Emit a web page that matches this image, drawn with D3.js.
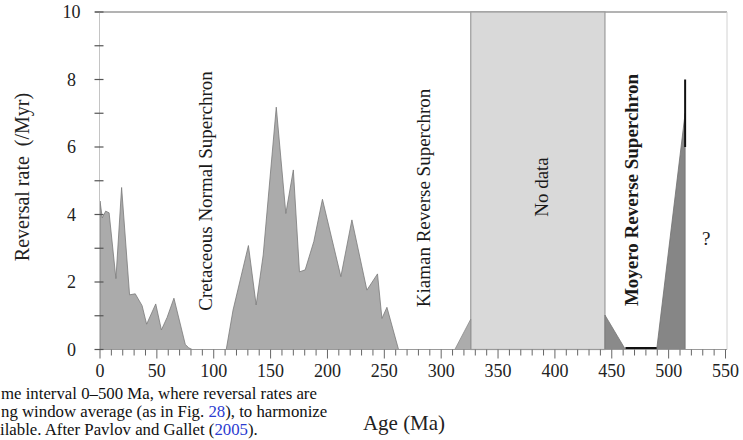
<!DOCTYPE html>
<html>
<head>
<meta charset="utf-8">
<script src="https://cdn.jsdelivr.net/npm/d3@7"></script>
<style>
  html, body { margin: 0; padding: 0; background: #fff; }
  svg { display: block; font-family: "Liberation Serif", "Times New Roman", serif; }
</style>
</head>
<body>
<svg id="chart" width="743" height="440"></svg>
<script>
// Reversal rate (per Myr) against age (Ma)
const cenozoicAge  = [0, 2, 5, 8, 14, 19, 26, 31, 37, 41, 49, 54, 59, 65, 75, 78, 81];
const cenozoicRate = [4.4, 3.9, 4.1, 4.05, 2.1, 4.8, 1.62, 1.65, 1.3, 0.75, 1.35, 0.58, 0.95, 1.52, 0.15, 0.05, 0];

const mesozoicAge  = [111, 117, 130.5, 137.3, 143.5, 155, 163.4, 170, 175.4, 180.4, 188, 195.6, 211.8, 221.5, 234.7, 244, 247.9, 252.3, 262.5];
const mesozoicRate = [0, 1.17, 3.08, 1.32, 2.8, 7.18, 4.03, 5.32, 2.3, 2.36, 3.2, 4.45, 2.16, 3.84, 1.76, 2.24, 0.92, 1.25, 0];

const carbonAge  = [312, 326, 326];
const carbonRate = [0, 0.9, 0];

const ordovicianAge  = [444, 444, 462];
const ordovicianRate = [0, 1.02, 0];

const cambrianAge  = [489.5, 514.5, 514.5];
const cambrianRate = [0, 7.0, 0];

const cambrianErrAge = 514.5;
const cambrianErrRange = [6, 8];

const zeroRunAge = [462, 489.5];
const noDataAge = [326, 444];

const xTickValues = d3.range(0, 551, 10);
const xLabelValues = [0, 50, 100, 150, 200, 250, 300, 350, 400, 450, 500, 550];
const yTickValues = d3.range(0, 11, 1);
const yLabelValues = [0, 2, 4, 6, 8, 10];

const superchronNames = ["Cretaceous Normal Superchron", "Kiaman Reverse Superchron", "Moyero Reverse Superchron"];
const xTitle = "Age (Ma)";
const yTitle = "Reversal rate\u00a0\u00a0(/Myr)";

const svg = d3.select("#chart");
const x = d3.scaleLinear().domain([0, 550]).range([100, 725.5]);
const y = d3.scaleLinear().domain([0, 10]).range([349.5, 12]);

const zip = (a, b) => a.map((v, i) => [v, b[i]]);
const area = d3.area().x(d => x(d[0])).y0(y(0)).y1(d => y(d[1]));

// frame
svg.append("line").attr("x1", 95).attr("x2", x(550) + 1.5).attr("y1", y(10)).attr("y2", y(10))
  .attr("stroke", "#9a9a9a").attr("stroke-width", 1.6);
svg.append("line").attr("x1", x(550) + 1.5).attr("x2", x(550) + 1.5).attr("y1", y(10)).attr("y2", y(0))
  .attr("stroke", "#d2d2d2").attr("stroke-width", 1);

// no-data band
svg.append("rect")
  .attr("x", x(noDataAge[0])).attr("y", y(10))
  .attr("width", x(noDataAge[1]) - x(noDataAge[0])).attr("height", y(0) - y(10))
  .attr("fill", "#d9d9d9").attr("stroke", "#9c9c9c").attr("stroke-width", 1.2);

// rate areas
svg.append("path").datum(zip(cenozoicAge, cenozoicRate)).attr("d", area)
  .attr("fill", "#ababab").attr("stroke", "#7a7a7a").attr("stroke-width", 0.8);
svg.append("path").datum(zip(mesozoicAge, mesozoicRate)).attr("d", area)
  .attr("fill", "#ababab").attr("stroke", "#7a7a7a").attr("stroke-width", 0.8);
svg.append("path").datum(zip(carbonAge, carbonRate)).attr("d", area)
  .attr("fill", "#acacac").attr("stroke", "#8a8a8a").attr("stroke-width", 0.8);
svg.append("path").datum(zip(ordovicianAge, ordovicianRate)).attr("d", area)
  .attr("fill", "#8a8a8a").attr("stroke", "#777").attr("stroke-width", 0.8);
svg.append("path").datum(zip(cambrianAge, cambrianRate)).attr("d", area)
  .attr("fill", "#868686").attr("stroke", "#707070").attr("stroke-width", 0.8);

// zero-rate run and error bar
svg.append("line").attr("x1", x(zeroRunAge[0])).attr("x2", x(zeroRunAge[1]))
  .attr("y1", y(0) - 1.2).attr("y2", y(0) - 1.2).attr("stroke", "#111").attr("stroke-width", 2.6);
svg.append("line").attr("x1", x(cambrianErrAge)).attr("x2", x(cambrianErrAge))
  .attr("y1", y(cambrianErrRange[0])).attr("y2", y(cambrianErrRange[1]))
  .attr("stroke", "#111").attr("stroke-width", 2);

// x axis
const xAxis = svg.append("g").attr("transform", `translate(0,${y(0)})`);
xAxis.append("line").attr("x1", x(0)).attr("x2", x(550) + 1.5).attr("stroke", "#9a9a9a").attr("stroke-width", 1.2);
xAxis.selectAll("line.tick").data(xTickValues).join("line").attr("class", "tick")
  .attr("x1", d => x(d)).attr("x2", d => x(d))
  .attr("y1", 0).attr("y2", d => d % 50 === 0 ? 9 : 6)
  .attr("stroke", "#666").attr("stroke-width", 1);
xAxis.selectAll("text").data(xLabelValues).join("text")
  .attr("x", d => x(d)).attr("y", 27.5)
  .attr("text-anchor", "middle").attr("font-size", 18).attr("fill", "#222")
  .text(d => d);

// y axis
const yAxis = svg.append("g").attr("transform", `translate(${x(0) - 0.5},0)`);
yAxis.append("line").attr("y1", y(10)).attr("y2", y(0)).attr("stroke", "#c4c4c4").attr("stroke-width", 1);
yAxis.selectAll("line.tick").data(yTickValues).join("line").attr("class", "tick")
  .attr("y1", d => y(d)).attr("y2", d => y(d))
  .attr("x1", -5).attr("x2", 4)
  .attr("stroke", "#555").attr("stroke-width", 1.2);
yAxis.selectAll("text").data(yLabelValues).join("text")
  .attr("x", -28).attr("y", d => y(d)).attr("dy", "0.34em")
  .attr("text-anchor", "middle").attr("font-size", 18).attr("fill", "#222")
  .text(d => d);

// axis titles
svg.append("text").attr("x", 404).attr("y", 430).attr("text-anchor", "middle")
  .attr("font-size", 21).attr("fill", "#222").text(xTitle);
svg.append("text").attr("transform", "translate(29,177) rotate(-90)").attr("text-anchor", "middle")
  .attr("font-size", 20).attr("fill", "#222").text(yTitle);

// superchron and band annotations
const vLabel = (age, cy, txt, bold) => svg.append("text")
  .attr("transform", `translate(${x(age)},${cy}) rotate(-90)`)
  .attr("text-anchor", "middle").attr("font-size", 19).attr("fill", "#1a1a1a")
  .attr("font-weight", bold ? "bold" : "normal").text(txt);
vLabel(98.5, 191, superchronNames[0], false);
vLabel(290.5, 198, superchronNames[1], false);
vLabel(394, 187, "No data", false);
vLabel(473, 190, superchronNames[2], true);
svg.append("text").attr("x", x(533)).attr("y", 245).attr("text-anchor", "middle")
  .attr("font-size", 19).attr("fill", "#222").text("?");

// caption fragment beneath the figure
const caption = svg.append("g").attr("font-size", 16.8).attr("fill", "#111");
caption.append("text").attr("x", 1).attr("y", 399).text("me interval 0\u2013500 Ma, where reversal rates are");
const c2 = caption.append("text").attr("x", 1).attr("y", 416.5);
c2.append("tspan").text("ng window average (as in Fig. ");
c2.append("tspan").attr("fill", "#2b3bd0").text("28");
c2.append("tspan").text("), to harmonize");
const c3 = caption.append("text").attr("x", 0).attr("y", 434.5);
c3.append("tspan").text("ilable. After Pavlov and Gallet (");
c3.append("tspan").attr("fill", "#2b3bd0").text("2005");
c3.append("tspan").text(").");
</script>
</body>
</html>
